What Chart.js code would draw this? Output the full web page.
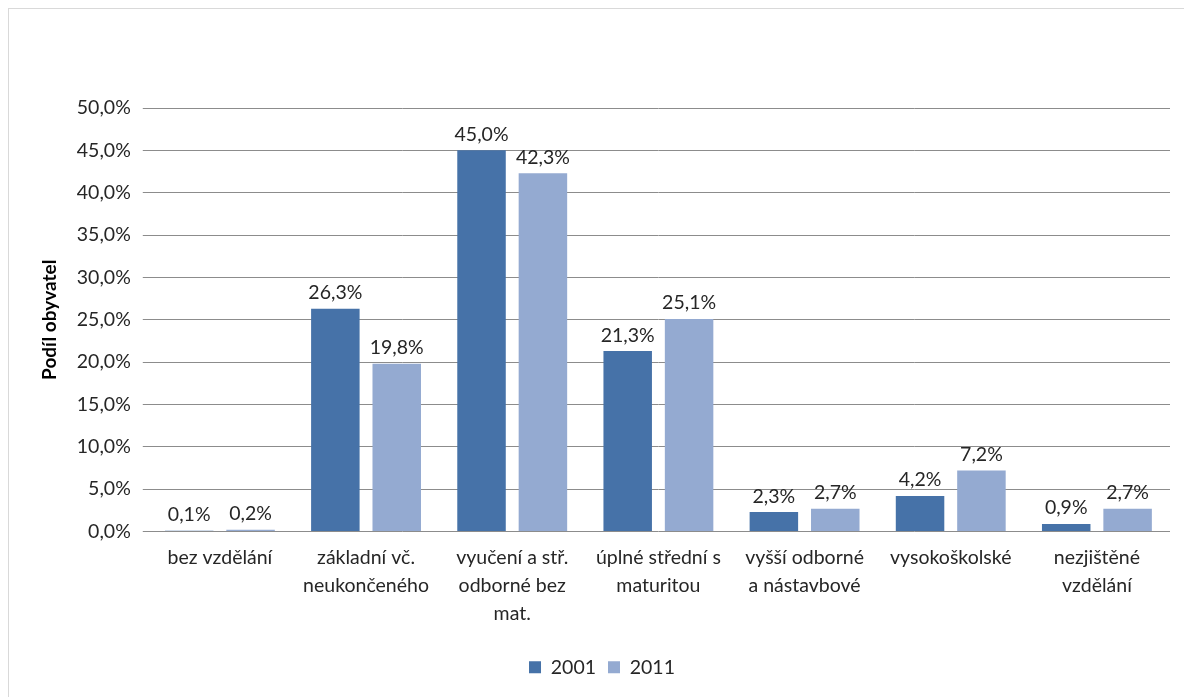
<!DOCTYPE html>
<html>
<head>
<meta charset="utf-8">
<script src="https://cdn.jsdelivr.net/npm/chart.js@4/dist/chart.umd.min.js"></script>
<style>
  html, body { margin: 0; padding: 0; background: #fff; }
  #wrap { position: relative; width: 1184px; height: 697px; }
  #frame { position: absolute; left: 8px; top: 8px; width: 1190px; height: 700px; border: 1px solid #d9d9d9; box-sizing: border-box; }
</style>
</head>
<body>
<div id="wrap">
  <div id="frame"></div>
  <canvas id="chart" width="1184" height="697"></canvas>
</div>
<script>
const categories = [
  ["bez vzdělání"],
  ["základní vč.", "neukončeného"],
  ["vyučení a stř.", "odborné bez", "mat."],
  ["úplné střední s", "maturitou"],
  ["vyšší odborné", "a nástavbové"],
  ["vysokoškolské"],
  ["nezjištěné", "vzdělání"],
];
const values2001 = [0.1, 26.3, 45.0, 21.3, 2.3, 4.2, 0.9];
const values2011 = [0.2, 19.8, 42.3, 25.1, 2.7, 7.2, 2.7];
const yTicks = [0, 5, 10, 15, 20, 25, 30, 35, 40, 45, 50];

const fontFamily = "Lato, 'Open Sans', sans-serif";
const fmt = (v) => v.toFixed(1).replace(".", ",") + "%";

// value labels above every bar
const barLabels = {
  id: "barLabels",
  afterDatasetsDraw(chart) {
    const ctx = chart.ctx;
    ctx.save();
    ctx.font = "19.5px " + fontFamily;
    ctx.fillStyle = "#262626";
    ctx.textAlign = "center";
    ctx.textBaseline = "bottom";
    chart.data.datasets.forEach((ds, i) => {
      chart.getDatasetMeta(i).data.forEach((bar, j) => {
        ctx.fillText(fmt(ds.data[j]), bar.x, bar.y - 6);
      });
    });
    ctx.restore();
  },
};

new Chart(document.getElementById("chart"), {
  type: "bar",
  data: {
    labels: categories,
    datasets: [
      {
        label: "2001",
        data: values2001,
        backgroundColor: "#4672a8",
        categoryPercentage: 0.84,
        barPercentage: 0.79,
      },
      {
        label: "2011",
        data: values2011,
        backgroundColor: "#94aad1",
        categoryPercentage: 0.84,
        barPercentage: 0.79,
      },
    ],
  },
  plugins: [barLabels],
  options: {
    responsive: false,
    animation: false,
    layout: { padding: { top: 108, right: 14, left: 34, bottom: 10 } },
    plugins: {
      tooltip: { enabled: false },
      legend: {
        position: "bottom",
        labels: {
          boxWidth: 12,
          boxHeight: 12,
          padding: 12,
          color: "#262626",
          font: { family: fontFamily, size: 19.5 },
        },
      },
    },
    scales: {
      x: {
        grid: { display: false },
        border: { display: false },
        afterFit: (axis) => { axis.height = 114; },
        ticks: {
          color: "#262626",
          font: { family: fontFamily, size: 19.5, lineHeight: 1.44 },
          maxRotation: 0,
          autoSkip: false,
          padding: 4,
        },
      },
      y: {
        min: 0,
        max: 50,
        afterBuildTicks: (axis) => {
          axis.ticks = yTicks.map((v) => ({ value: v }));
        },
        grid: { color: "#8c8c8c", lineWidth: 1, tickLength: 4 },
        border: { display: false },
        ticks: {
          color: "#262626",
          font: { family: fontFamily, size: 19.5 },
          padding: 12,
          callback: (v) => fmt(v),
        },
        title: {
          display: true,
          text: "Podíl obyvatel",
          color: "#000",
          font: { family: fontFamily, size: 19, weight: "bold" },
          padding: { bottom: 4 },
        },
      },
    },
  },
});
</script>
</body>
</html>
